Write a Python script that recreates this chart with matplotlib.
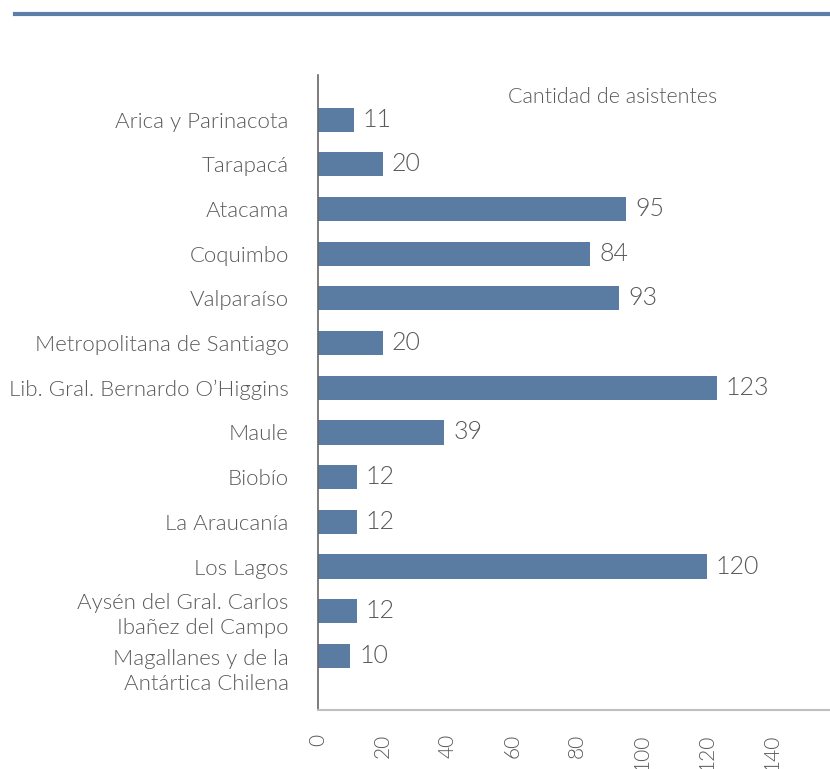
import matplotlib.pyplot as plt
from matplotlib.lines import Line2D
from matplotlib.transforms import ScaledTranslation

plt.rcParams['font.family'] = ['Lato', 'DejaVu Sans']

regiones = [
    "Arica y Parinacota",
    "Tarapacá",
    "Atacama",
    "Coquimbo",
    "Valparaíso",
    "Metropolitana de Santiago",
    "Lib. Gral. Bernardo O’Higgins",
    "Maule",
    "Biobío",
    "La Araucanía",
    "Los Lagos",
    "Aysén del Gral. Carlos\nIbañez del Campo",
    "Magallanes y de la\nAntártica Chilena",
]
asistentes = [11, 20, 95, 84, 93, 20, 123, 39, 12, 12, 120, 12, 10]
ticks_x = [0, 20, 40, 60, 80, 100, 120, 140]

azul = '#5b7ca2'
gris = '#595959'
peso = 300

fig = plt.figure(figsize=(8.30, 7.69), dpi=100)

# linea decorativa superior
fig.add_artist(Line2D([0.018, 1.0], [0.982, 0.982], color='#5b7fa8', lw=3))

ax = fig.add_axes([0.383, 0.0767, 0.617, 0.8258])
y = range(len(regiones))
ax.barh(y, asistentes, height=0.54, color=azul)

for i, v in enumerate(asistentes):
    ax.text(v + 2.8, i, str(v), va='center', ha='left', fontsize=18,
            color=gris, fontweight=peso)

ax.set_ylim(len(regiones) - 1 + 1.21, -1.0)
ax.set_xlim(0, 158)
ax.set_yticks(list(y))
ax.set_yticklabels(regiones, fontsize=16, color=gris, linespacing=1.3,
                   fontweight=peso)
ax.set_xticks(ticks_x)
ax.set_xticklabels([str(t) for t in ticks_x], rotation=90, fontsize=15,
                   color=gris, fontweight=peso)
ax.tick_params(axis='both', length=0)
ax.tick_params(axis='y', pad=21)
ax.tick_params(axis='x', pad=17)

# la ultima etiqueta queda un poco mas abajo
ultima = ax.get_yticklabels()[-1]
ultima.set_transform(ultima.get_transform() +
                     ScaledTranslation(0, -11 / 100, fig.dpi_scale_trans))

for s in ['top', 'right']:
    ax.spines[s].set_visible(False)
ax.spines['left'].set_color('#666666')
ax.spines['left'].set_linewidth(1.2)
ax.spines['bottom'].set_color('#bfbfbf')
ax.spines['bottom'].set_linewidth(1.5)

ax.text(0.576, 0.965, "Cantidad de asistentes", transform=ax.transAxes,
        fontsize=15.5, color=gris, ha='center', va='center', fontweight=peso)

fig.savefig('out.png', dpi=100)
